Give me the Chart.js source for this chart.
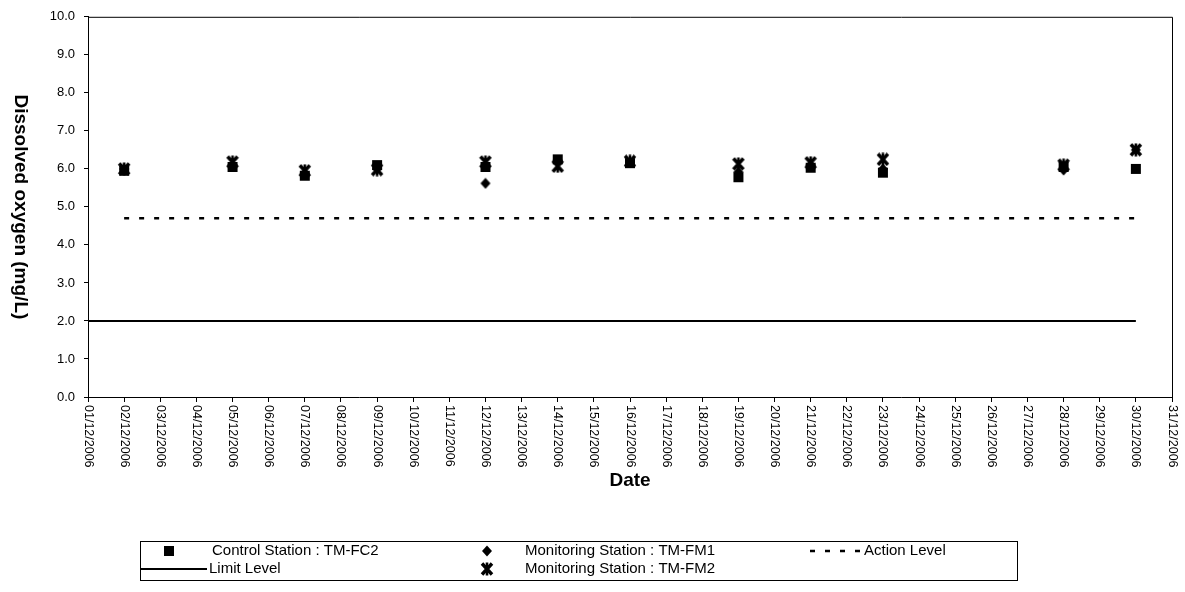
<!DOCTYPE html>
<html>
<head>
<meta charset="utf-8">
<script src="https://cdn.jsdelivr.net/npm/chart.js@4.4.0/dist/chart.umd.min.js"></script>
<style>
html, body { margin: 0; padding: 0; background: #fff; }
</style>
</head>
<body>
<canvas id="chart-area" width="1185" height="592"></canvas>
<script>
// sampling dates and dissolved oxygen readings (mg/L)
var dates = ['02/12/2006', '05/12/2006', '07/12/2006', '09/12/2006', '12/12/2006', '14/12/2006',
             '16/12/2006', '19/12/2006', '21/12/2006', '23/12/2006', '28/12/2006', '30/12/2006'];
var fc2 = [5.95, 6.05, 5.82, 6.10, 6.05, 6.25, 6.15, 5.78, 6.03, 5.90, 6.05, 6.00];
var fm1 = [6.00, 6.10, 5.88, 6.00, 5.62, 6.22, 6.17, 5.92, 6.10, 6.00, 5.97, 6.50];
var fm2 = [6.00, 6.18, 5.95, 5.98, 6.18, 6.07, 6.20, 6.13, 6.16, 6.25, 6.10, 6.50];
var actionLevel = 4.7;
var limitLevel = 2.0;
var limitFrom = '01/12/2006', limitTo = '30/12/2006';
var seriesNames = ['Control Station : TM-FC2', 'Monitoring Station : TM-FM1', 'Monitoring Station : TM-FM2', 'Action Level', 'Limit Level'];
var xTitle = 'Date';
var yTitle = 'Dissolved oxygen (mg/L)';

var FONT = 'Arial, "Liberation Sans", sans-serif';

function day(d) { return parseInt(d.slice(0, 2), 10); }
function dayLabel(v) { return (v < 10 ? '0' : '') + v + '/12/2006'; }
function pts(vals) {
	return dates.map(function(d, i) { return {x: day(d), y: vals[i]}; });
}

function marker(kind) {
	var c = document.createElement('canvas');
	var s = kind == 'star' ? 14 : 12;
	c.width = s; c.height = s;
	var g = c.getContext('2d');
	g.fillStyle = '#000'; g.strokeStyle = '#000';
	if (kind == 'square') {
		g.fillRect(1, 1, 10, 10);
	} else if (kind == 'diamond') {
		g.beginPath();
		g.moveTo(6, 0.5); g.lineTo(11, 6); g.lineTo(6, 11.5); g.lineTo(1, 6);
		g.closePath(); g.fill();
	} else {
		g.lineCap = 'butt';
		g.lineWidth = 3.4;
		g.beginPath();
		g.moveTo(2, 1.5); g.lineTo(12, 12.5);
		g.moveTo(12, 1.5); g.lineTo(2, 12.5);
		g.stroke();
		g.lineWidth = 2.6;
		g.beginPath();
		g.moveTo(7, 0.5); g.lineTo(7, 13.5);
		g.stroke();
	}
	return c;
}
var squareImg = marker('square'), diamondImg = marker('diamond'), starImg = marker('star');

var decor = {
	id: 'decor',
	afterDraw: function(chart) {
		var c = chart.ctx, a = chart.chartArea, xs = chart.scales.x;
		c.save();
		c.strokeStyle = '#000';
		c.lineWidth = 1;
		c.beginPath();
		c.moveTo(a.left, a.top + 0.5);
		c.lineTo(a.right + 0.5, a.top + 0.5);
		c.lineTo(a.right + 0.5, a.bottom);
		c.stroke();

		// rotated date labels, reading downwards
		c.fillStyle = '#000';
		c.font = '12.5px ' + FONT;
		c.textAlign = 'left';
		c.textBaseline = 'middle';
		xs.ticks.forEach(function(t) {
			c.save();
			c.translate(xs.getPixelForValue(t.value), a.bottom + 8);
			c.rotate(Math.PI / 2);
			c.fillText(dayLabel(t.value), 0, 0);
			c.restore();
		});

		c.font = 'bold 19px ' + FONT;
		c.textAlign = 'center';
		c.fillText(xTitle, (a.left + a.right) / 2, 481);
		c.save();
		c.translate(20, (a.top + a.bottom) / 2);
		c.rotate(Math.PI / 2);
		c.fillText(yTitle, 0, 0);
		c.restore();

		// legend
		var top = 541, bot = 580, r1 = 551, r2 = 569;
		c.lineWidth = 1;
		c.strokeRect(140.5, top + 0.5, 877, bot - top);
		c.font = '15px ' + FONT;
		c.textAlign = 'left';
		c.drawImage(squareImg, 169 - 6, r1 - 6);
		c.fillText(seriesNames[0], 212, r1);
		c.drawImage(diamondImg, 487 - 6, r1 - 6);
		c.fillText(seriesNames[1], 525, r1);
		c.lineWidth = 2.5;
		c.setLineDash([5, 10]);
		c.beginPath(); c.moveTo(810, r1); c.lineTo(862, r1); c.stroke();
		c.setLineDash([]);
		c.fillText(seriesNames[3], 864, r1);
		c.lineWidth = 2;
		c.beginPath(); c.moveTo(141, r2); c.lineTo(207, r2); c.stroke();
		c.fillText(seriesNames[4], 209, r2);
		c.drawImage(starImg, 487 - 7, r2 - 7);
		c.fillText(seriesNames[2], 525, r2);
		c.restore();
	}
};

var config = {
	type: 'scatter',
	data: {
		datasets: [{
			label: seriesNames[2], data: pts(fm2), pointStyle: starImg, order: 0
		}, {
			label: seriesNames[1], data: pts(fm1), pointStyle: diamondImg, order: 1
		}, {
			label: seriesNames[0], data: pts(fc2), pointStyle: squareImg, order: 2
		}, {
			label: seriesNames[3],
			data: [{x: day(dates[0]), y: actionLevel}, {x: day(dates[dates.length - 1]), y: actionLevel}],
			showLine: true, borderColor: '#000', borderWidth: 2.5, borderDash: [5, 10], pointRadius: 0, order: 3
		}, {
			label: seriesNames[4],
			data: [{x: day(limitFrom), y: limitLevel}, {x: day(limitTo), y: limitLevel}],
			showLine: true, borderColor: '#000', borderWidth: 2, pointRadius: 0, order: 4
		}]
	},
	options: {
		responsive: false,
		animation: false,
		events: [],
		layout: { padding: { top: 15, right: 13, left: 0, bottom: 0 } },
		plugins: { legend: { display: false }, tooltip: { enabled: false } },
		scales: {
			x: {
				type: 'linear', min: 1, max: 31,
				afterFit: function(s) { s.height = 195; },
				ticks: { display: false, stepSize: 1 },
				grid: { drawOnChartArea: false, drawTicks: true, tickLength: 5, color: '#000' },
				border: { color: '#000', width: 1 }
			},
			y: {
				min: 0, max: 10,
				afterFit: function(s) { s.width = 88; },
				ticks: {
					stepSize: 1, color: '#000', padding: 9,
					font: { family: FONT, size: 13 },
					callback: function(v) { return v.toFixed(1); }
				},
				grid: { drawOnChartArea: false, drawTicks: true, tickLength: 4, color: '#000' },
				border: { color: '#000', width: 1 }
			}
		}
	},
	plugins: [decor]
};

window.onload = function() {
	var ctx = document.getElementById('chart-area').getContext('2d');
	window.myChart = new Chart(ctx, config);
};
</script>
</body>
</html>
